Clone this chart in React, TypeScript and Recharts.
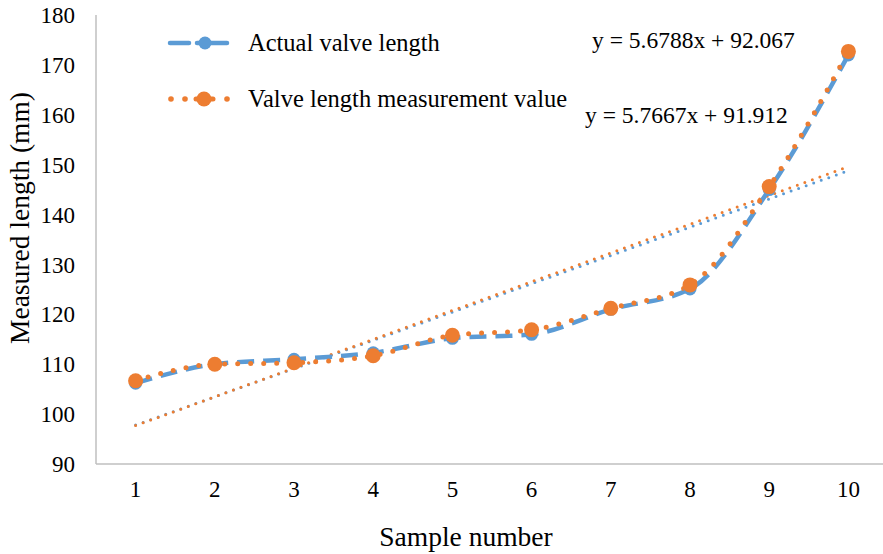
import React from 'react';
import { LineChart, Line, XAxis, YAxis } from 'recharts';

const categories = ['1', '2', '3', '4', '5', '6', '7', '8', '9', '10'];
const actualLength = [106.2, 110.0, 111.0, 112.3, 115.2, 116.0, 121.0, 125.1, 145.0, 172.0];
const measuredValue = [106.7, 110.0, 110.3, 111.7, 115.8, 116.9, 121.2, 125.9, 145.6, 172.7];
// trendline end points (x = 1 and x = 10)
const actualTrend: (number | null)[] = [97.8, null, null, null, null, null, null, null, null, 148.8];
const measuredTrend: (number | null)[] = [97.7, null, null, null, null, null, null, null, null, 149.6];
const yTicks = [90, 100, 110, 120, 130, 140, 150, 160, 170, 180];
const actualEq = 'y = 5.6788x + 92.067';
const measuredEq = 'y = 5.7667x + 91.912';
const seriesNames = ['Actual valve length', 'Valve length measurement value'];

const data = categories.map((c, i) => ({
  name: c,
  actual: actualLength[i],
  measured: measuredValue[i],
  actualTrend: actualTrend[i],
  measuredTrend: measuredTrend[i],
}));

const BLUE = '#5B9BD5';
const ORANGE = '#ED7D31';
const FONT = '"Liberation Serif", "Times New Roman", serif';
const AXIS = '#BFBFBF';

const LegendBox = () => (
  <div style={{ position: 'absolute', left: 166, top: 43, fontFamily: FONT, fontSize: 24.5, color: '#000' }}>
    <div style={{ position: 'absolute', left: 0, top: 0, transform: 'translateY(-50%)', display: 'flex', alignItems: 'center', whiteSpace: 'nowrap' }}>
      <svg width={64} height={20} style={{ marginRight: 18 }}>
        <line x1={4} y1={10} x2={23} y2={10} stroke={BLUE} strokeWidth={4.5} strokeLinecap="round" />
        <line x1={31} y1={10} x2={61} y2={10} stroke={BLUE} strokeWidth={4.5} strokeLinecap="round" />
        <circle cx={39} cy={10} r={6.5} fill={BLUE} />
      </svg>
      <span>{seriesNames[0]}</span>
    </div>
    <div style={{ position: 'absolute', left: 0, top: 56, transform: 'translateY(-50%)', display: 'flex', alignItems: 'center', whiteSpace: 'nowrap' }}>
      <svg width={64} height={20} style={{ marginRight: 18 }}>
        <circle cx={5} cy={10} r={2.8} fill={ORANGE} />
        <circle cx={19} cy={10} r={2.8} fill={ORANGE} />
        <circle cx={61} cy={10} r={2.8} fill={ORANGE} />
        <line x1={30} y1={10} x2={47} y2={10} stroke={ORANGE} strokeWidth={5} strokeLinecap="round" />
        <circle cx={38} cy={10} r={7.5} fill={ORANGE} />
      </svg>
      <span>{seriesNames[1]}</span>
    </div>
  </div>
);

export default function App() {
  return (
    <div style={{ position: 'absolute', left: 0, top: 0, width: 883, height: 554, overflow: 'hidden', background: '#fff', fontFamily: FONT }}>
      <LineChart width={890} height={554} data={data} margin={{ top: 15, right: 2, bottom: 0, left: 0 }}>
        <XAxis
          dataKey="name"
          type="category"
          tickLine={false}
          axisLine={{ stroke: AXIS, strokeWidth: 1.5 }}
          tick={{ fill: '#000', fontSize: 23, fontFamily: FONT }}
          tickMargin={11}
          height={90}
          padding={{ left: 39.6, right: 39.6 }}
        />
        <YAxis
          domain={[90, 180]}
          ticks={yTicks}
          width={96}
          tickLine={false}
          axisLine={{ stroke: AXIS, strokeWidth: 1.5 }}
          tick={{ fill: '#000', fontSize: 23, fontFamily: FONT }}
          tickMargin={15}
          interval={0}
        />
        <Line
          dataKey="actualTrend"
          connectNulls
          stroke={BLUE}
          strokeWidth={3}
          strokeDasharray="0 8"
          strokeLinecap="round"
          dot={false}
          activeDot={false}
          isAnimationActive={false}
          legendType="none"
        />
        <Line
          dataKey="measuredTrend"
          connectNulls
          stroke={ORANGE}
          strokeWidth={3}
          strokeDasharray="0 8"
          strokeLinecap="round"
          dot={false}
          activeDot={false}
          isAnimationActive={false}
          legendType="none"
        />
        <Line
          type="monotone"
          dataKey="actual"
          name={seriesNames[0]}
          stroke={BLUE}
          strokeWidth={4.5}
          strokeDasharray="17 9"
          dot={{ r: 6.5, fill: BLUE, stroke: BLUE, strokeWidth: 0 }}
          activeDot={false}
          isAnimationActive={false}
        />
        <Line
          type="monotone"
          dataKey="measured"
          name={seriesNames[1]}
          stroke={ORANGE}
          strokeWidth={5}
          strokeDasharray="0 13"
          strokeLinecap="round"
          dot={{ r: 7.5, fill: ORANGE, stroke: ORANGE, strokeWidth: 0, strokeDasharray: '' }}
          activeDot={false}
          isAnimationActive={false}
        />
      </LineChart>
      <LegendBox />
      <div style={{ position: 'absolute', left: 592, top: 40, transform: 'translateY(-50%)', fontSize: 23.5, whiteSpace: 'nowrap', color: '#000' }}>{actualEq}</div>
      <div style={{ position: 'absolute', left: 585, top: 115, transform: 'translateY(-50%)', fontSize: 23.5, whiteSpace: 'nowrap', color: '#000' }}>{measuredEq}</div>
      <div
        style={{
          position: 'absolute',
          left: 20,
          top: 218,
          transform: 'translate(-50%, -50%) rotate(-90deg)',
          fontSize: 27.5,
          whiteSpace: 'nowrap',
          color: '#000',
        }}
      >
        Measured length (mm)
      </div>
      <div
        style={{
          position: 'absolute',
          left: 466,
          top: 537,
          transform: 'translate(-50%, -50%)',
          fontSize: 27.5,
          whiteSpace: 'nowrap',
          color: '#000',
        }}
      >
        Sample number
      </div>
    </div>
  );
}
